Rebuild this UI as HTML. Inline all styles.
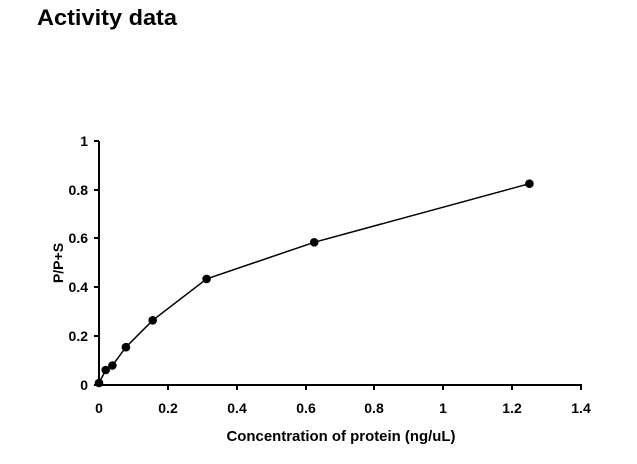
<!DOCTYPE html>
<html><head><style>body{margin:0;background:#fff;}svg{display:block}</style></head>
<body>
<svg width="637" height="464" xmlns="http://www.w3.org/2000/svg" font-family="Liberation Sans, Arial, sans-serif" font-weight="bold">
<text x="37" y="25" font-size="22" fill="#000" textLength="140" lengthAdjust="spacingAndGlyphs">Activity data</text>
<g stroke="#000" stroke-width="2" fill="none">
<line x1="99" y1="141" x2="99" y2="386"/>
<line x1="98" y1="385" x2="582" y2="385"/>
<line x1="94" y1="141" x2="99" y2="141"/>
<line x1="94" y1="190" x2="99" y2="190"/>
<line x1="94" y1="238" x2="99" y2="238"/>
<line x1="94" y1="287" x2="99" y2="287"/>
<line x1="94" y1="336" x2="99" y2="336"/>
<line x1="94" y1="385" x2="99" y2="385"/>
<line x1="168" y1="385" x2="168" y2="390"/>
<line x1="237" y1="385" x2="237" y2="390"/>
<line x1="306" y1="385" x2="306" y2="390"/>
<line x1="374" y1="385" x2="374" y2="390"/>
<line x1="443" y1="385" x2="443" y2="390"/>
<line x1="512" y1="385" x2="512" y2="390"/>
<line x1="581" y1="385" x2="581" y2="390"/>
</g>
<g font-size="14" text-anchor="end">
<text x="88" y="146">1</text>
<text x="88" y="195">0.8</text>
<text x="88" y="243">0.6</text>
<text x="88" y="292">0.4</text>
<text x="88" y="341">0.2</text>
<text x="88" y="390">0</text>
</g>
<g font-size="14" text-anchor="middle">
<text x="99" y="413">0</text>
<text x="168" y="413">0.2</text>
<text x="237" y="413">0.4</text>
<text x="306" y="413">0.6</text>
<text x="374" y="413">0.8</text>
<text x="443" y="413">1</text>
<text x="512" y="413">1.2</text>
<text x="581" y="413">1.4</text>
</g>
<text x="341" y="441" font-size="15" text-anchor="middle" textLength="229" lengthAdjust="spacingAndGlyphs">Concentration of protein (ng/uL)</text>
<text transform="translate(63,263) rotate(-90)" font-size="14" text-anchor="middle">P/P+S</text>
<polyline fill="none" stroke="#000" stroke-width="1.5" points="99,383 105.7,370 112.4,365.5 125.9,347.2 152.7,320.3 206.6,278.9 314.2,242.3 529.4,183.7"/>
<g fill="#000">
<circle cx="99" cy="383" r="4.3"/>
<circle cx="105.7" cy="370" r="4.3"/>
<circle cx="112.4" cy="365.5" r="4.3"/>
<circle cx="125.9" cy="347.2" r="4.3"/>
<circle cx="152.7" cy="320.3" r="4.3"/>
<circle cx="206.6" cy="278.9" r="4.3"/>
<circle cx="314.2" cy="242.3" r="4.3"/>
<circle cx="529.4" cy="183.7" r="4.3"/>
</g>
</svg>
</body></html>
